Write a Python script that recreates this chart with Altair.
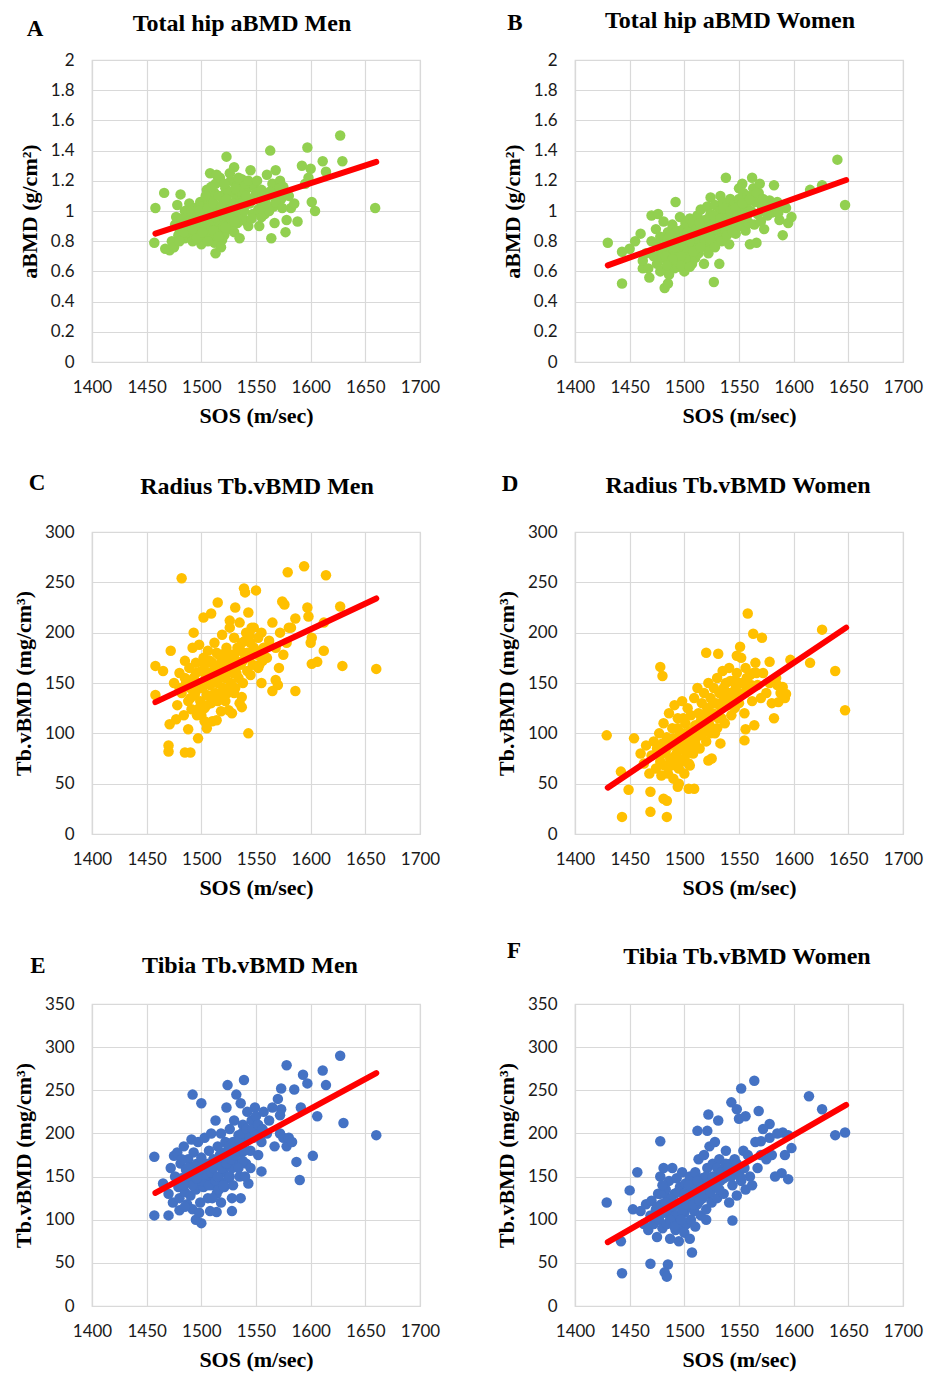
import altair as alt
import pandas as pd

# ---------------- data ----------------
panel_letters = ["A", "B", "C", "D", "E", "F"]
panel_titles = ["Total hip aBMD Men", "Total hip aBMD Women",
                "Radius Tb.vBMD Men", "Radius Tb.vBMD Women",
                "Tibia Tb.vBMD Men", "Tibia Tb.vBMD Women"]
x_title = "SOS (m/sec)"
y_titles = ["aBMD (g/cm²)", "aBMD (g/cm²)",
            "Tb.vBMD (mg/cm³)", "Tb.vBMD (mg/cm³)",
            "Tb.vBMD (mg/cm³)", "Tb.vBMD (mg/cm³)"]
x_ticks = [1400, 1450, 1500, 1550, 1600, 1650, 1700]
y_ticks_bmd = [0, 0.2, 0.4, 0.6, 0.8, 1.0, 1.2, 1.4, 1.6, 1.8, 2.0]
y_ticks_radius = [0, 50, 100, 150, 200, 250, 300]
y_ticks_tibia = [0, 50, 100, 150, 200, 250, 300, 350]
y_ticks = [y_ticks_bmd, y_ticks_bmd, y_ticks_radius, y_ticks_radius, y_ticks_tibia, y_ticks_tibia]

# regression line end points (SOS, value)
line_sos = [[1458, 1660], [1430, 1648], [1458, 1660], [1430, 1648], [1458, 1660], [1430, 1648]]
line_vals = [[0.85, 1.325], [0.64, 1.205], [131, 234], [46, 205], [131, 270], [74, 233]]

# A: Total hip aBMD, men (SOS, aBMD)
a_points = [
    (1458, 1.02), (1457, 0.79), (1466, 1.12), (1467, 0.75), (1471, 0.74), (1473, 0.80),
    (1475, 0.76), (1478, 1.04), (1481, 1.11), (1477, 0.96), (1480, 0.88), (1483, 0.92),
    (1485, 0.82), (1487, 0.98), (1489, 1.05), (1490, 0.85), (1492, 0.80), (1493, 0.95),
    (1495, 1.02), (1496, 0.89), (1498, 0.84), (1499, 1.06), (1500, 0.78), (1501, 0.93),
    (1502, 0.87), (1503, 1.00), (1504, 0.82), (1505, 1.14), (1506, 0.96), (1507, 0.90),
    (1508, 1.25), (1509, 0.85), (1510, 1.08), (1511, 0.98), (1512, 0.79), (1513, 0.72),
    (1513, 1.18), (1514, 0.92), (1515, 1.03), (1516, 0.88), (1517, 1.22), (1518, 0.95),
    (1518, 0.76), (1519, 1.10), (1520, 1.00), (1521, 0.84), (1522, 1.15), (1523, 1.36),
    (1524, 0.93), (1525, 1.05), (1526, 0.88), (1527, 1.20), (1528, 0.99), (1529, 1.12),
    (1530, 1.29), (1530, 0.86), (1531, 0.95), (1532, 1.08), (1533, 1.17), (1534, 1.02),
    (1535, 0.82), (1536, 0.97), (1537, 1.21), (1538, 1.10), (1540, 1.04), (1541, 0.93),
    (1542, 1.15), (1543, 0.90), (1545, 1.27), (1546, 1.07), (1547, 0.98), (1548, 1.17),
    (1550, 1.12), (1552, 1.01), (1553, 0.90), (1555, 1.14), (1557, 1.06), (1558, 0.98),
    (1560, 1.24), (1561, 1.10), (1563, 1.40), (1564, 0.82), (1565, 1.18), (1566, 1.03),
    (1567, 0.92), (1568, 1.27), (1570, 1.13), (1572, 1.20), (1573, 1.08), (1575, 1.16),
    (1577, 0.86), (1578, 0.94), (1580, 1.10), (1582, 1.02), (1585, 1.05), (1588, 0.93),
    (1592, 1.30), (1595, 1.18), (1597, 1.42), (1598, 1.22), (1600, 1.28), (1601, 1.06),
    (1604, 1.00), (1611, 1.33), (1614, 1.26), (1627, 1.50), (1629, 1.33), (1659, 1.02),
    (1485, 1.00), (1490, 0.93), (1495, 0.87), (1497, 0.97), (1500, 1.03), (1502, 0.95),
    (1505, 0.88), (1507, 1.05), (1510, 0.94), (1512, 1.12), (1515, 0.98), (1517, 0.90),
    (1520, 1.07), (1522, 0.96), (1525, 1.13), (1528, 0.91), (1532, 1.00), (1535, 1.13),
    (1538, 0.95), (1540, 1.18), (1544, 1.05), (1476, 0.91), (1479, 0.84), (1482, 0.95),
    (1486, 0.87), (1488, 0.90), (1491, 1.00), (1494, 0.83), (1504, 1.10), (1509, 1.16),
    (1514, 1.24), (1519, 0.81), (1524, 1.00), (1526, 1.25), (1555, 0.96), (1562, 1.00),
    (1568, 1.06), (1571, 1.15), (1574, 1.02),
    (1495, 0.92), (1498, 1.00), (1503, 0.90), (1506, 1.02), (1508, 0.83), (1511, 1.05),
    (1513, 0.96), (1516, 1.10), (1518, 1.03), (1520, 0.90), (1521, 1.18), (1523, 1.08),
    (1526, 1.00), (1527, 0.95), (1529, 1.05), (1531, 1.15), (1533, 0.92), (1534, 1.22),
    (1536, 1.05), (1539, 1.00), (1541, 1.10), (1543, 1.20), (1546, 0.95), (1549, 1.08),
    (1551, 1.20), (1554, 1.02), (1556, 1.10), (1559, 1.05), (1563, 1.13), (1480, 0.80),
    (1484, 0.86), (1487, 0.93), (1492, 0.88), (1496, 0.82), (1501, 0.86), (1506, 0.80),
    (1511, 0.87), (1516, 0.83), (1522, 0.89), (1530, 0.93),
]

# B: Total hip aBMD, women
b_points = [
    (1430, 0.79), (1443, 0.52), (1443, 0.73), (1450, 0.75), (1455, 0.80), (1460, 0.85),
    (1462, 0.62), (1468, 0.56), (1470, 0.97), (1476, 0.98), (1482, 0.49), (1485, 0.52),
    (1492, 1.06), (1500, 0.60), (1507, 0.65), (1518, 0.65), (1524, 1.09), (1527, 0.53),
    (1532, 0.65), (1538, 1.22), (1533, 1.10), (1541, 0.78), (1550, 1.15), (1553, 1.18),
    (1562, 1.22), (1560, 0.78), (1566, 0.79), (1568, 1.12), (1573, 0.88), (1582, 1.17),
    (1585, 1.06), (1587, 0.94), (1590, 0.84), (1593, 1.02), (1595, 0.92), (1598, 0.96),
    (1615, 1.14), (1626, 1.17), (1640, 1.34), (1647, 1.04), (1575, 1.01), (1578, 1.07),
    (1462, 0.67), (1465, 0.72), (1467, 0.62), (1470, 0.80), (1472, 0.70), (1474, 0.88),
    (1475, 0.65), (1477, 0.76), (1478, 0.83), (1480, 0.69), (1481, 0.93), (1482, 0.74),
    (1483, 0.62), (1484, 0.80), (1485, 0.86), (1486, 0.70), (1487, 0.66), (1488, 0.77),
    (1489, 0.91), (1490, 0.83), (1490, 0.72), (1491, 0.62), (1492, 0.79), (1493, 0.87),
    (1494, 0.68), (1495, 0.75), (1496, 0.96), (1497, 0.81), (1498, 0.71), (1499, 0.88),
    (1500, 0.77), (1500, 0.66), (1501, 0.92), (1502, 0.84), (1503, 0.73), (1504, 0.80),
    (1505, 0.95), (1506, 0.87), (1507, 0.70), (1508, 0.78), (1509, 0.90), (1510, 0.83),
    (1511, 0.74), (1512, 0.97), (1513, 0.86), (1514, 0.80), (1515, 1.01), (1516, 0.91),
    (1517, 0.77), (1518, 0.88), (1519, 0.94), (1520, 0.83), (1521, 1.03), (1522, 0.72),
    (1523, 0.90), (1524, 0.98), (1525, 0.85), (1526, 0.93), (1527, 0.80), (1528, 1.04),
    (1529, 0.89), (1530, 0.96), (1531, 0.87), (1532, 1.00), (1533, 0.82), (1534, 0.93),
    (1535, 1.06), (1536, 0.90), (1537, 0.97), (1538, 0.86), (1540, 1.02), (1541, 0.92),
    (1542, 1.08), (1543, 0.88), (1545, 0.99), (1546, 1.05), (1547, 0.85), (1548, 0.94),
    (1550, 1.08), (1551, 0.90), (1552, 1.00), (1554, 1.12), (1555, 0.95), (1556, 0.87),
    (1557, 1.04), (1558, 1.10), (1559, 0.92), (1561, 1.00), (1563, 1.15), (1564, 0.91),
    (1565, 1.06), (1567, 0.98), (1569, 1.18), (1570, 0.93), (1571, 1.03), (1574, 1.00),
    (1576, 0.97), (1580, 0.99), (1583, 1.03), (1586, 0.99), (1588, 1.04),
    (1478, 0.60), (1486, 0.58), (1494, 0.63), (1502, 0.69), (1510, 0.69), (1513, 0.72),
    (1520, 0.76), (1528, 0.76), (1534, 0.80), (1539, 0.84), (1544, 0.86),
    (1475, 0.78), (1479, 0.73), (1483, 0.70), (1487, 0.84), (1491, 0.76), (1495, 0.82),
    (1497, 0.70), (1499, 0.78), (1503, 0.86), (1505, 0.80), (1508, 0.92), (1511, 0.88),
    (1514, 0.92), (1516, 0.84), (1519, 0.80), (1522, 0.95), (1525, 0.91), (1527, 0.97),
    (1530, 0.90), (1533, 0.95), (1536, 1.02), (1539, 0.95), (1542, 1.00), (1544, 0.93),
    (1547, 1.02), (1549, 0.97), (1553, 1.05), (1557, 0.96), (1560, 1.08), (1566, 1.12),
    (1572, 1.08), (1579, 1.03), (1508, 0.73), (1515, 0.76), (1523, 0.82), (1497, 0.64),
    (1489, 0.68), (1505, 0.63), (1484, 0.64),
]

# C: Radius Tb.vBMD, men
c_points = [
    (1482, 254), (1579, 260), (1594, 266), (1614, 257), (1660, 164), (1629, 167),
    (1627, 226), (1458, 167), (1458, 138), (1470, 88), (1470, 82), (1485, 81),
    (1490, 81), (1543, 100), (1586, 142), (1515, 230), (1539, 244), (1540, 240),
    (1550, 242), (1574, 231), (1576, 228), (1597, 225), (1612, 210), (1612, 182),
    (1600, 190), (1601, 195), (1606, 171), (1601, 169), (1586, 214), (1598, 216),
    (1580, 205), (1568, 153), (1565, 142), (1570, 148), (1571, 165), (1555, 150),
    (1553, 168), (1472, 182), (1493, 200), (1502, 215), (1509, 219), (1471, 109),
    (1477, 114), (1488, 104), (1497, 95), (1505, 105), (1514, 113), (1525, 123),
    (1537, 126), (1537, 136), (1465, 162),
    (1475, 150), (1478, 128), (1480, 160), (1482, 140), (1484, 118), (1485, 172),
    (1486, 150), (1488, 132), (1489, 165), (1490, 145), (1491, 124), (1492, 185),
    (1493, 155), (1494, 138), (1495, 170), (1496, 118), (1497, 150), (1498, 188),
    (1499, 132), (1500, 162), (1501, 145), (1502, 175), (1503, 125), (1504, 155),
    (1505, 138), (1506, 182), (1507, 160), (1508, 148), (1509, 130), (1510, 170),
    (1511, 155), (1512, 190), (1513, 140), (1514, 165), (1515, 150), (1516, 178),
    (1517, 135), (1518, 160), (1519, 198), (1520, 145), (1521, 172), (1522, 155),
    (1523, 185), (1524, 140), (1525, 168), (1526, 205), (1527, 150), (1528, 178),
    (1529, 160), (1530, 195), (1531, 145), (1532, 172), (1533, 185), (1534, 155),
    (1535, 210), (1536, 168), (1537, 190), (1538, 150), (1540, 178), (1541, 200),
    (1542, 162), (1543, 220), (1544, 175), (1545, 190), (1547, 168), (1548, 205),
    (1550, 182), (1552, 195), (1553, 178), (1555, 200), (1557, 185), (1560, 175),
    (1562, 192), (1565, 210), (1568, 185), (1572, 200), (1575, 178), (1578, 190),
    (1582, 205), (1535, 130), (1528, 120), (1518, 122), (1510, 112), (1500, 118),
    (1526, 212), (1531, 225), (1545, 158), (1552, 165),
    (1495, 160), (1500, 150), (1503, 168), (1505, 158), (1508, 172), (1510, 150),
    (1512, 165), (1514, 180), (1516, 158), (1518, 170), (1520, 162), (1522, 180),
    (1524, 160), (1526, 175), (1528, 165), (1530, 178), (1532, 160), (1534, 170),
    (1536, 182), (1538, 172), (1540, 192), (1542, 180), (1544, 198), (1546, 205),
    (1548, 185), (1551, 178), (1556, 172), (1490, 135), (1495, 142), (1505, 128),
    (1510, 138), (1515, 132), (1520, 138), (1525, 145), (1530, 140), (1485, 155),
    (1480, 145), (1498, 125), (1503, 112), (1522, 132),
]

# D: Radius Tb.vBMD, women
d_points = [
    (1429, 98), (1443, 17), (1442, 62), (1449, 44), (1454, 95), (1469, 42), (1469, 22),
    (1478, 166), (1480, 157), (1481, 35), (1484, 33), (1484, 17), (1504, 45), (1509, 45),
    (1494, 47), (1558, 219), (1563, 199), (1571, 195), (1520, 180), (1531, 179),
    (1626, 203), (1638, 162), (1647, 123), (1615, 170), (1597, 173), (1578, 171),
    (1582, 115), (1555, 93), (1556, 104), (1564, 108), (1592, 135), (1593, 139),
    (1586, 131), (1590, 146), (1584, 155), (1551, 186), (1548, 177),
    (1460, 80), (1463, 70), (1465, 88), (1468, 60), (1470, 78), (1472, 92), (1474, 65),
    (1475, 85), (1477, 100), (1478, 72), (1479, 58), (1480, 90), (1481, 110), (1482, 68),
    (1483, 82), (1484, 96), (1485, 60), (1486, 120), (1487, 75), (1488, 88), (1489, 105),
    (1490, 70), (1491, 128), (1492, 92), (1493, 80), (1494, 115), (1495, 65), (1496, 100),
    (1497, 85), (1498, 132), (1499, 95), (1500, 75), (1501, 110), (1502, 88), (1503, 125),
    (1504, 70), (1505, 102), (1506, 118), (1507, 92), (1508, 80), (1509, 135), (1510, 108),
    (1511, 96), (1512, 145), (1513, 120), (1514, 85), (1515, 112), (1516, 130), (1517, 100),
    (1518, 140), (1519, 118), (1520, 92), (1521, 125), (1522, 150), (1523, 108), (1524, 135),
    (1525, 75), (1526, 120), (1527, 145), (1528, 100), (1529, 130), (1530, 155), (1531, 115),
    (1532, 140), (1533, 90), (1534, 125), (1535, 162), (1536, 135), (1537, 110), (1538, 150),
    (1540, 128), (1541, 165), (1542, 140), (1543, 118), (1545, 152), (1546, 125), (1548, 160),
    (1549, 140), (1550, 130), (1552, 175), (1553, 150), (1555, 120), (1556, 165), (1558, 145),
    (1560, 158), (1562, 132), (1565, 170), (1567, 148), (1570, 135), (1572, 160), (1575, 140),
    (1578, 150), (1580, 130), (1585, 148), (1588, 140),
    (1490, 55), (1495, 50), (1500, 60), (1505, 68), (1522, 73),
    (1480, 80), (1485, 88), (1488, 68), (1490, 95), (1492, 78), (1495, 88), (1497, 72),
    (1500, 100), (1502, 80), (1504, 92), (1506, 85), (1508, 100), (1510, 90), (1512, 105),
    (1514, 98), (1516, 115), (1518, 105), (1520, 120), (1522, 112), (1524, 100), (1526, 130),
    (1528, 118), (1530, 105), (1532, 128), (1534, 115), (1536, 145), (1538, 128), (1540, 140),
    (1542, 152), (1544, 135), (1547, 145), (1550, 150), (1554, 140), (1557, 155), (1561, 148),
    (1563, 160), (1566, 160), (1494, 105), (1499, 115), (1503, 98),
]

# E: Tibia Tb.vBMD, men
e_points = [
    (1457, 173), (1457, 105), (1470, 105), (1492, 245), (1500, 235), (1500, 96),
    (1495, 100), (1539, 262), (1524, 256), (1578, 279), (1627, 290), (1611, 273),
    (1593, 268), (1597, 258), (1614, 256), (1585, 251), (1630, 212), (1660, 198),
    (1602, 174), (1590, 146), (1587, 167), (1606, 220), (1591, 230), (1555, 156),
    (1543, 142), (1536, 125), (1528, 110), (1514, 109), (1480, 111), (1475, 174),
    (1491, 193), (1573, 228), (1572, 221), (1549, 230), (1573, 252),
    (1465, 142), (1470, 130), (1472, 160), (1474, 120), (1476, 150), (1478, 178),
    (1479, 138), (1480, 125), (1481, 165), (1482, 148), (1484, 185), (1485, 132),
    (1486, 158), (1487, 118), (1488, 170), (1489, 145), (1490, 128), (1491, 160),
    (1492, 112), (1493, 178), (1494, 150), (1495, 135), (1496, 165), (1497, 190),
    (1498, 145), (1499, 120), (1500, 172), (1501, 155), (1502, 138), (1503, 195),
    (1504, 162), (1505, 148), (1506, 125), (1507, 180), (1508, 158), (1509, 200),
    (1510, 140), (1511, 170), (1512, 150), (1513, 215), (1514, 130), (1515, 185),
    (1516, 165), (1517, 145), (1518, 200), (1519, 172), (1520, 155), (1521, 138),
    (1522, 190), (1523, 230), (1524, 168), (1525, 148), (1526, 205), (1527, 180),
    (1528, 160), (1529, 140), (1530, 215), (1531, 185), (1532, 245), (1533, 165),
    (1534, 198), (1535, 150), (1536, 235), (1537, 178), (1538, 210), (1540, 190),
    (1541, 165), (1542, 225), (1543, 200), (1545, 180), (1546, 215), (1548, 195),
    (1550, 220), (1552, 175), (1553, 205), (1555, 190), (1557, 225), (1560, 200),
    (1562, 215), (1565, 230), (1567, 185), (1570, 240), (1572, 200), (1575, 195),
    (1578, 185), (1580, 195), (1583, 190), (1545, 160), (1538, 168), (1528, 125),
    (1518, 120), (1508, 110), (1498, 108), (1485, 115),
    (1500, 145), (1503, 152), (1505, 165), (1507, 140), (1509, 155), (1511, 160),
    (1513, 145), (1515, 150), (1517, 175), (1519, 160), (1521, 178), (1523, 165),
    (1525, 185), (1527, 170), (1529, 190), (1531, 175), (1533, 180), (1535, 192),
    (1537, 200), (1539, 180), (1541, 205), (1544, 195), (1547, 205), (1550, 198),
    (1552, 210), (1556, 205), (1490, 150), (1492, 140), (1494, 162), (1496, 148),
    (1498, 158), (1488, 160), (1484, 140), (1482, 170), (1510, 125), (1516, 135),
    (1520, 140), (1526, 150), (1534, 160), (1540, 150),
]

# F: Tibia Tb.vBMD, women
f_points = [
    (1429, 120), (1442, 75), (1443, 38), (1450, 134), (1457, 155), (1453, 112),
    (1469, 49), (1478, 191), (1485, 48), (1482, 39), (1484, 34), (1507, 62),
    (1512, 203), (1521, 203), (1522, 222), (1531, 215), (1543, 236), (1552, 252),
    (1564, 261), (1548, 228), (1550, 217), (1556, 220), (1568, 226), (1614, 243),
    (1626, 228), (1638, 198), (1647, 201), (1544, 99), (1595, 147), (1589, 154),
    (1583, 150), (1598, 183), (1578, 211), (1590, 201), (1570, 191),
    (1460, 110), (1463, 95), (1465, 118), (1467, 88), (1469, 105), (1470, 122),
    (1472, 95), (1474, 112), (1475, 80), (1476, 130), (1477, 100), (1478, 150),
    (1479, 118), (1480, 90), (1481, 160), (1482, 108), (1483, 135), (1484, 95),
    (1485, 125), (1486, 145), (1487, 78), (1488, 112), (1489, 160), (1490, 100),
    (1491, 130), (1492, 88), (1493, 148), (1494, 118), (1495, 105), (1496, 138),
    (1497, 92), (1498, 155), (1499, 120), (1500, 108), (1501, 142), (1502, 95),
    (1503, 130), (1504, 115), (1505, 150), (1506, 100), (1507, 125), (1508, 140),
    (1509, 110), (1510, 155), (1511, 128), (1512, 118), (1513, 170), (1514, 135),
    (1515, 105), (1516, 148), (1517, 125), (1518, 175), (1519, 140), (1520, 112),
    (1521, 160), (1522, 130), (1523, 185), (1524, 145), (1525, 120), (1526, 165),
    (1527, 138), (1528, 190), (1529, 150), (1530, 125), (1532, 170), (1533, 145),
    (1535, 158), (1536, 130), (1538, 180), (1540, 150), (1541, 120), (1542, 165),
    (1544, 140), (1546, 170), (1548, 128), (1550, 160), (1552, 145), (1554, 180),
    (1556, 135), (1558, 175), (1560, 150), (1562, 140), (1565, 190), (1567, 160),
    (1570, 175), (1572, 205), (1575, 170), (1578, 195), (1580, 175), (1585, 200),
    (1592, 175), (1595, 198), (1500, 85), (1510, 92), (1520, 100), (1495, 75),
    (1505, 78),
    (1485, 110), (1488, 125), (1490, 115), (1492, 105), (1494, 132), (1496, 120),
    (1498, 110), (1500, 130), (1502, 118), (1504, 140), (1506, 128), (1508, 118),
    (1510, 135), (1512, 145), (1514, 122), (1516, 138), (1518, 128), (1520, 150),
    (1522, 142), (1524, 132), (1526, 150), (1528, 140), (1530, 160), (1532, 135),
    (1534, 155), (1536, 148), (1538, 165), (1540, 160), (1543, 150), (1546, 158),
    (1548, 165), (1551, 150), (1555, 160), (1478, 130), (1475, 115), (1480, 140),
    (1483, 120), (1487, 100), (1491, 92), (1497, 100),
]

all_points = [a_points, b_points, c_points, d_points, e_points, f_points]

# ---------------- styling / layout ----------------
point_colors = ["#92D050", "#92D050", "#FFC000", "#FFC000", "#4472C4", "#4472C4"]
y_formats = [".1~f", ".1~f", "d", "d", "d", "d"]
# text offsets relative to each plot area's top-left corner (pixels)
letter_offsets = [(-57, -24), (-60, -30), (-55, -42), (-65, -41), (-54, -31), (-61, -46)]
title_offsets = [(150, -29), (155, -32), (165, -38), (163, -39), (158, -31), (172, -40)]
PLOT_W, PLOT_H = 328, 302
SERIF = "Liberation Serif"


def make_panel(i):
    pts = pd.DataFrame(all_points[i], columns=["sos", "val"])
    x_enc = alt.X("sos:Q",
                  scale=alt.Scale(domain=[1400, 1700], nice=False, zero=False),
                  axis=alt.Axis(values=x_ticks, tickCount=len(x_ticks), format="d",
                                title=x_title, labelFlush=False))
    y_enc = alt.Y("val:Q",
                  scale=alt.Scale(domain=[0, y_ticks[i][-1]], nice=False, zero=True),
                  axis=alt.Axis(values=y_ticks[i], tickCount=len(y_ticks[i]),
                                format=y_formats[i], title=y_titles[i], labelFlush=False))
    dots = alt.Chart(pts).mark_circle(size=110, opacity=1, color=point_colors[i]).encode(
        x=x_enc, y=y_enc)
    line_df = pd.DataFrame({"sos": line_sos[i], "val": line_vals[i]})
    line = alt.Chart(line_df).mark_line(color="#FF0000", strokeWidth=6, strokeCap="round").encode(
        x="sos:Q", y="val:Q")
    txt_df = pd.DataFrame({"letter": [panel_letters[i]], "title": [panel_titles[i]]})
    lx, ly = letter_offsets[i]
    tx, ty = title_offsets[i]
    letter = alt.Chart(txt_df).mark_text(font=SERIF, fontWeight="bold", fontSize=23,
                                         align="center", baseline="alphabetic",
                                         color="black").encode(
        x=alt.value(lx), y=alt.value(ly), text="letter:N")
    title = alt.Chart(txt_df).mark_text(font=SERIF, fontWeight="bold", fontSize=24,
                                        align="center", baseline="alphabetic",
                                        color="black").encode(
        x=alt.value(tx), y=alt.value(ty), text="title:N")
    return alt.layer(dots, line, letter, title).properties(width=PLOT_W, height=PLOT_H)


panels = [make_panel(i) for i in range(6)]

chart = alt.concat(*panels, columns=2, spacing={"row": 170, "column": 155}, bounds="flush").properties(
    padding={"left": 3, "top": 0, "right": 5, "bottom": 5},
    background="white",
).configure_axis(
    grid=True, gridColor="#d9d9d9", gridWidth=1.2,
    domain=True, domainColor="#d9d9d9", domainWidth=1.2,
    ticks=False, tickSize=0, labelOverlap=False, labelBound=False,
    labelFont="Lato", labelFontSize=17, labelColor="#1a1a1a",
    titleFont=SERIF, titleFontWeight="bold", titleFontSize=22, titleColor="black",
).configure_axisX(labelPadding=17, titlePadding=10).configure_axisY(
    labelPadding=18, titlePadding=9
).configure_view(stroke="#d9d9d9", strokeWidth=1.2)

chart.save("out.html", embed_options={"renderer": "svg", "actions": False})
